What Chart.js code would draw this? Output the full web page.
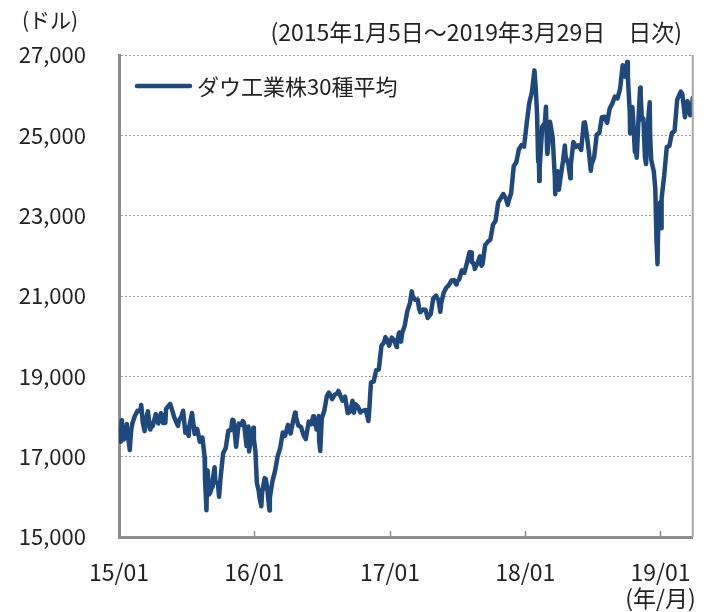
<!DOCTYPE html>
<html>
<head>
<meta charset="utf-8">
<script src="https://cdn.jsdelivr.net/npm/chart.js@4/dist/chart.umd.min.js"></script>
<style>
  html, body { margin: 0; padding: 0; background: #fff; }
  #wrap { position: relative; width: 719px; height: 612px; overflow: hidden; }
  canvas { position: absolute; left: 0; top: 0; }
  .txt { position: absolute; font-family: "Noto Sans CJK JP", "Noto Sans", sans-serif; color: #222; white-space: nowrap; line-height: 1; }
  #unit { left: 22px; top: 9px; font-size: 21px; }
  #period { right: 37px; top: 20px; font-size: 23px; }
</style>
</head>
<body>
<div id="wrap">
  <canvas id="c" width="719" height="612"></canvas>
  <div class="txt" id="unit">(ドル)</div>
  <div class="txt" id="period">(2015年1月5日～2019年3月29日　日次)</div>
</div>
<script>
// ---- data ----
const seriesName = 'ダウ工業株30種平均';
const yTickStep = 2000;
const yMin = 15000, yMax = 27000;
const xTickDates = ['2015-01-01', '2016-01-01', '2017-01-01', '2018-01-01', '2019-01-01'];
const xTickLabels = ['15/01', '16/01', '17/01', '18/01', ['19/01', '(年/月)']];
const xEndDate = '2019-03-29';

const d2015 = ['01-05','01-06','01-08','01-09','01-14','01-16','01-22','01-23','01-27','01-30','02-03','02-06','02-13','02-20','02-27','03-02','03-06','03-11','03-13','03-18','03-20','03-26','03-27','04-02','04-10','04-17','04-24','04-30','05-01','05-06','05-08','05-15','05-19','05-22','05-29','06-05','06-09','06-12','06-19','06-23','06-29','07-02','07-08','07-10','07-17','07-24','07-31','08-07','08-14','08-20','08-21','08-24','08-25','08-27','08-28','09-01','09-04','09-09','09-11','09-16','09-18','09-25','09-28','10-02','10-09','10-16','10-23','10-30','11-03','11-06','11-13','11-20','11-27','12-01','12-04','12-11','12-14','12-16','12-18','12-24','12-29','12-31'];
const v2015 = [17501,17371,17908,17737,17427,17511,17813,17672,17387,17165,17666,17824,18019,18140,18133,18288,17856,17635,17749,18076,18128,17678,17712,17763,18057,17826,18080,17841,18024,17842,18191,18272,18312,18232,18010,17849,17765,17898,18015,18144,17596,17730,17515,17760,18086,17568,17690,17373,17477,16990,16460,15871,15666,16655,16643,16058,16102,16253,16433,16739,16385,16315,16001,16472,17084,17216,17647,17664,17918,17910,17245,17824,17798,17888,17848,17265,17368,17750,17128,17552,17720,17425];

const d2016 = ['01-04','01-08','01-13','01-15','01-20','01-22','01-29','02-01','02-05','02-11','02-12','02-19','02-26','03-04','03-11','03-18','03-24','04-01','04-08','04-15','04-20','04-22','04-29','05-06','05-13','05-19','05-20','05-27','06-03','06-08','06-10','06-16','06-17','06-23','06-24','06-27','07-01','07-08','07-15','07-20','07-22','07-29','08-05','08-12','08-15','08-19','08-26','09-02','09-09','09-16','09-22','09-26','09-30','10-07','10-13','10-14','10-21','10-28','11-04','11-07','11-09','11-11','11-18','11-25','12-02','12-09','12-16','12-20','12-23','12-30'];
const v2016 = [17149,16347,16152,15988,15766,16094,16466,16449,16205,15660,15974,16392,16640,17007,17214,17602,17516,17793,17577,17898,18096,18004,17774,17740,17535,17436,17501,17873,17807,18005,17865,17733,17675,18011,17400,17140,17949,18147,18516,18595,18571,18432,18543,18576,18636,18553,18395,18492,18085,18124,18392,18094,18308,18240,18099,18138,18145,18161,17888,18260,18589,18847,18868,19152,19170,19757,19843,19975,19934,19763];

const d2017 = ['01-06','01-13','01-19','01-20','01-25','01-27','01-31','02-03','02-10','02-17','02-24','03-01','03-03','03-10','03-17','03-21','03-24','03-31','04-07','04-13','04-21','04-28','05-05','05-12','05-17','05-19','05-26','06-02','06-09','06-16','06-23','06-29','06-30','07-07','07-14','07-21','07-28','08-04','08-08','08-10','08-11','08-17','08-18','08-25','09-01','09-05','09-08','09-15','09-22','09-29','10-06','10-13','10-20','10-27','11-03','11-10','11-15','11-17','11-24','12-01','12-08','12-15','12-22','12-29'];
const v2017 = [19964,19886,19732,19827,20069,20093,19864,20071,20269,20624,20822,21115,21005,20903,20915,20669,20596,20663,20656,20453,20548,20941,21007,20897,20607,20805,21080,21206,21272,21384,21395,21288,21350,21414,21638,21580,21830,22093,22085,21844,21858,21750,21675,21814,21988,21753,21798,22268,22350,22405,22774,22871,23329,23434,23539,23422,23272,23358,23558,24232,24329,24652,24754,24719];

const d2018 = ['01-05','01-12','01-19','01-26','01-30','02-02','02-05','02-06','02-08','02-09','02-16','02-23','02-26','03-01','03-02','03-09','03-16','03-22','03-23','03-29','04-02','04-06','04-13','04-18','04-20','04-27','05-03','05-04','05-11','05-18','05-25','06-01','06-08','06-11','06-15','06-22','06-27','06-29','07-06','07-13','07-20','07-27','08-03','08-10','08-17','08-24','08-31','09-07','09-14','09-21','09-28','10-03','10-05','10-10','10-11','10-12','10-17','10-19','10-24','10-26','10-29','11-02','11-07','11-08','11-09','11-12','11-16','11-20','11-23','11-30','12-03','12-04','12-07','12-14','12-18','12-21','12-24','12-26','12-28','12-31'];
const v2018 = [25296,25803,26072,26617,26077,25521,24346,24913,23860,24191,25220,25310,25709,24609,24538,25336,24947,23958,23533,24103,23644,23933,24360,24748,24463,24311,23930,24263,24831,24715,24753,24635,25317,25322,25090,24581,24117,24271,24456,25019,25058,25451,25463,25313,25669,25790,25965,25917,26155,26744,26458,26828,26447,25599,25053,25340,25706,25444,24583,24688,24443,25271,26180,26191,25989,25387,25413,24466,24285,25538,25826,25027,24389,24100,23675,22445,21792,22878,23062,23327];

const d2019 = ['01-03','01-04','01-11','01-18','01-25','02-01','02-08','02-15','02-22','02-25','03-01','03-08','03-15','03-22','03-27','03-29'];
const v2019 = [22686,23433,23996,24706,24737,25064,25106,25883,26031,26091,26026,25450,25849,25502,25626,25929];

// ---- build points (x = days since first tick date) ----
const DAY = 86400000;
const t0 = Date.parse(xTickDates[0] + 'T00:00:00Z');
const dayIndex = (iso) => Math.round((Date.parse(iso + 'T00:00:00Z') - t0) / DAY);
const years = [[2015, d2015, v2015], [2016, d2016, v2016], [2017, d2017, v2017], [2018, d2018, v2018], [2019, d2019, v2019]];
const points = [];
years.forEach(([yr, ds, vs]) => ds.forEach((md, i) => points.push({ x: dayIndex(yr + '-' + md), y: vs[i] })));
const xTickValues = xTickDates.map(dayIndex);
const xMax = dayIndex(xEndDate);

const FONT = '"Noto Sans CJK JP", "Noto Sans", sans-serif';
const AXIS_COLOR = '#8c8c8c';
const LINE_COLOR = '#1f497d';

const framePlugin = {
  id: 'frame',
  afterDatasetsDraw(chart) {
    const { ctx, chartArea: a, scales: { x } } = chart;
    ctx.save();
    // right border
    ctx.strokeStyle = '#a6a6a6';
    ctx.lineWidth = 2;
    ctx.beginPath();
    ctx.moveTo(a.right, a.top);
    ctx.lineTo(a.right, a.bottom);
    ctx.stroke();
    // inward tick marks at year boundaries
    ctx.strokeStyle = AXIS_COLOR;
    ctx.lineWidth = 1.5;
    x.ticks.forEach((t, i) => {
      if (i === 0) return;
      const px = Math.round(x.getPixelForValue(t.value)) + 0.5;
      ctx.beginPath();
      ctx.moveTo(px, a.bottom);
      ctx.lineTo(px, a.bottom - 6);
      ctx.stroke();
    });
    // legend inside the plot area (top-left)
    const ds = chart.data.datasets[0];
    const ly = a.top + 31;
    const lx = a.left + 18;
    ctx.strokeStyle = ds.borderColor;
    ctx.lineWidth = 4.5;
    ctx.lineCap = 'round';
    ctx.beginPath();
    ctx.moveTo(lx, ly);
    ctx.lineTo(lx + 53, ly);
    ctx.stroke();
    ctx.fillStyle = '#222';
    ctx.font = '22px ' + FONT;
    ctx.textBaseline = 'middle';
    ctx.textAlign = 'left';
    ctx.fillText(ds.label, lx + 60, ly + 1);
    ctx.restore();
  }
};

new Chart(document.getElementById('c'), {
  type: 'line',
  data: {
    datasets: [{
      label: seriesName,
      data: points,
      borderColor: LINE_COLOR,
      backgroundColor: LINE_COLOR,
      borderWidth: 4.5,
      pointRadius: 0,
      tension: 0,
      borderJoinStyle: 'round',
      borderCapStyle: 'round'
    }]
  },
  options: {
    responsive: false,
    animation: false,
    devicePixelRatio: 1,
    parsing: false,
    layout: { padding: { top: 55, right: 22, left: 0, bottom: 0 } },
    plugins: {
      legend: { display: false },
      tooltip: { enabled: false }
    },
    scales: {
      x: {
        type: 'linear',
        min: 0,
        max: xMax,
        afterBuildTicks: (s) => { s.ticks = xTickValues.map(v => ({ value: v })); },
        afterFit: (s) => { s.height = 75; },
        ticks: {
          autoSkip: false,
          maxRotation: 0,
          padding: 22,
          color: '#222',
          font: { family: FONT, size: 23, lineHeight: 1.15 },
          callback: (v, i) => xTickLabels[i]
        },
        grid: { display: false, drawOnChartArea: false, drawTicks: false },
        border: { display: true, color: AXIS_COLOR, width: 3 }
      },
      y: {
        min: yMin,
        max: yMax,
        afterFit: (s) => { s.width = 119; },
        ticks: {
          stepSize: yTickStep,
          padding: 33,
          color: '#222',
          font: { family: FONT, size: 22 },
          callback: (v) => Number(v).toLocaleString('en-US')
        },
        grid: { color: '#9a9a9a', lineWidth: 1, drawTicks: false },
        border: { display: true, color: AXIS_COLOR, width: 3, dash: [2, 2] }
      }
    }
  },
  plugins: [framePlugin]
});
</script>
</body>
</html>
